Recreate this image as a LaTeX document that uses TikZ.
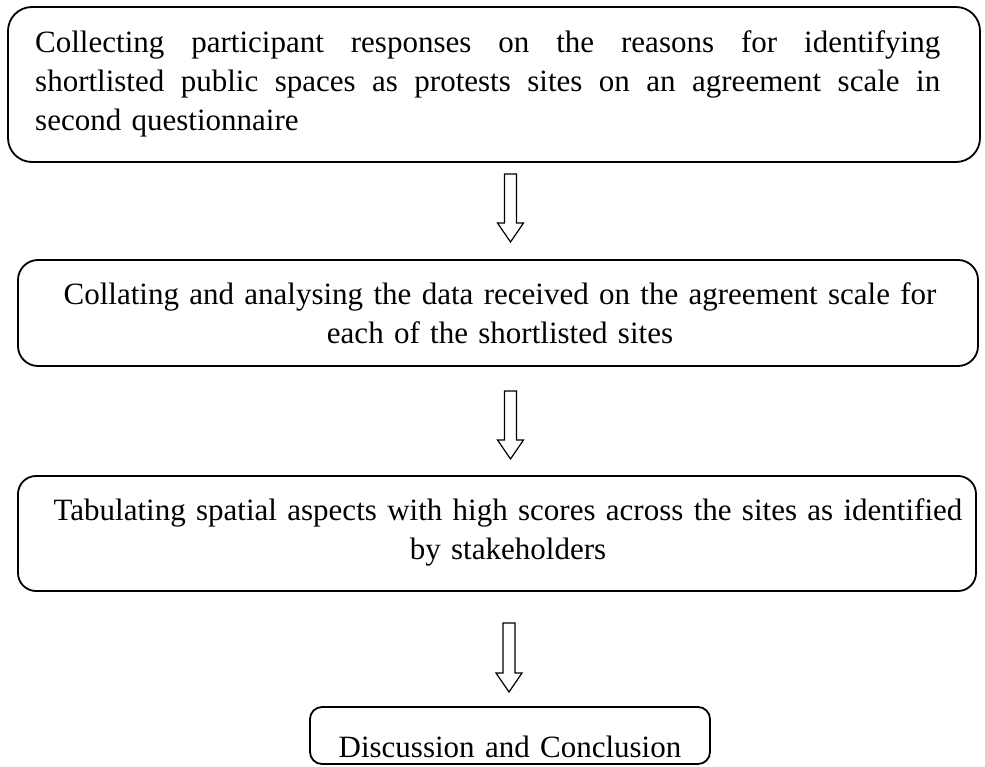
\documentclass[tikz,border=0pt]{standalone}
\usepackage{fontspec}
\setmainfont{Liberation Serif}
\usetikzlibrary{calc}
\tikzset{
  box/.style={draw, line width=1.8pt, rounded corners=#1, inner sep=0pt},
  txt/.style={font=\fontsize{31}{39}\selectfont, inner sep=0pt, text width=960pt, align=center, anchor=base},
  blockarrow/.style={draw, line width=1.2pt, fill=white, line join=miter}
}
\newcommand\blockarr[2]{%
  \draw[blockarrow] let \p1=(#1), \p2=(#2) in
    (\x1-6pt,\y1) -- (\x1-6pt,\y2+19pt) -- (\x1-13pt,\y2+19pt) -- (\x2,\y2)
    -- (\x1+13pt,\y2+19pt) -- (\x1+6pt,\y2+19pt) -- (\x1+6pt,\y1) -- cycle;}
\newcommand\fullline[1]{\makebox[905pt][s]{\spaceskip=.25em plus 1fil #1}}
\begin{document}
\begin{tikzpicture}[x=1pt,y=-1pt]
\useasboundingbox (0,0) rectangle (985,767);
% boxes
\node[box=24pt, minimum width=972pt, minimum height=155pt] (b1) at (494,84.5) {};
\node[box=20pt, minimum width=960pt, minimum height=106pt] (b2) at (498,313) {};
\node[box=18pt, minimum width=958pt, minimum height=115pt] (b3) at (497,533.5) {};
\node[box=12pt, minimum width=400pt, minimum height=57pt] (b4) at (510,735.5) {};
% texts
\node[txt, text width=905pt, align=left, anchor=base west] (t1) at (35,53)
  {\fullline{Collecting participant responses on the reasons for identifying}\\
   \fullline{shortlisted public spaces as protests sites on an agreement scale in}\\
   second questionnaire};
\node[txt] (t2) at (500,305)
  {Collating and analysing the data received on the agreement scale for\\ each of the shortlisted sites};
\node[txt] (t3) at (508,520)
  {Tabulating spatial aspects with high scores across the sites as identified\\ by stakeholders};
\node[txt] (t4) at (510,757) {Discussion and Conclusion};
% arrows
\coordinate (a1s) at (510.5,174);
\coordinate (a1e) at (510.5,242);
\coordinate (a2s) at (510.5,391);
\coordinate (a2e) at (510.5,459);
\coordinate (a3s) at (509,623);
\coordinate (a3e) at (509,692);
\blockarr{a1s}{a1e}
\blockarr{a2s}{a2e}
\blockarr{a3s}{a3e}
\end{tikzpicture}
\end{document}
